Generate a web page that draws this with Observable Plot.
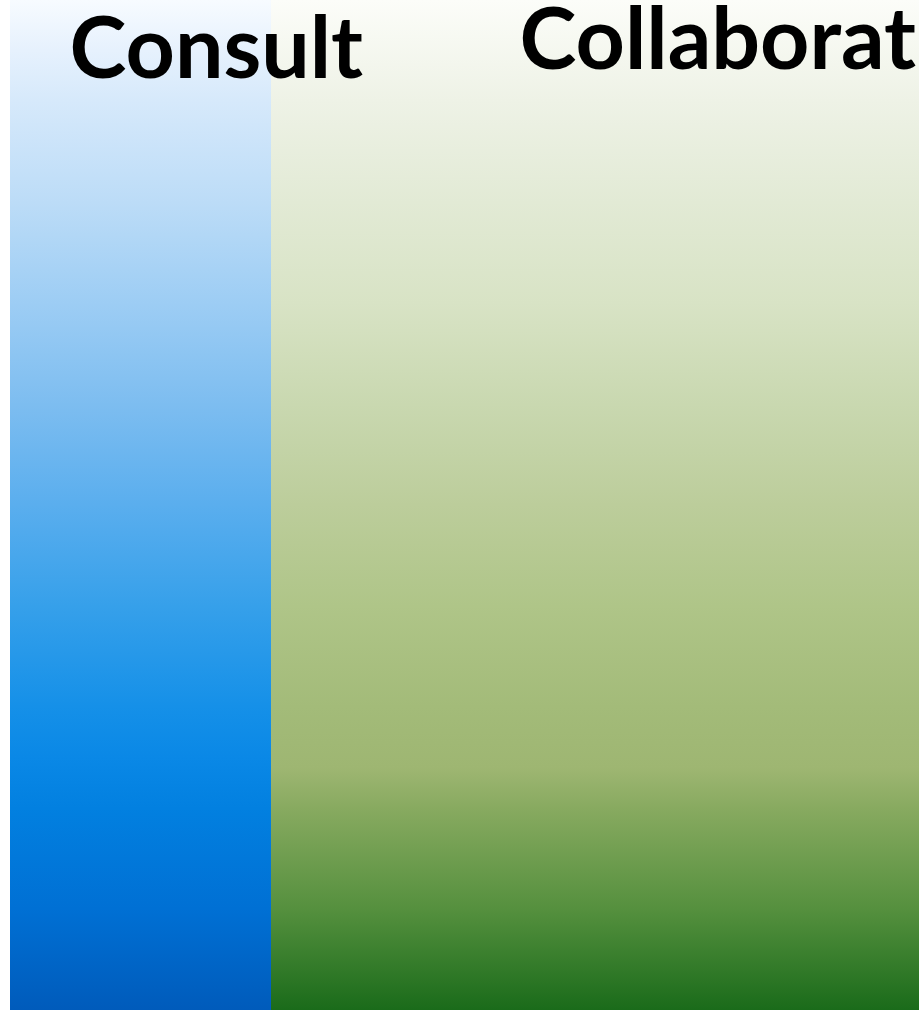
<!DOCTYPE html>
<html>
<head>
<meta charset="utf-8">
<script src="https://cdn.jsdelivr.net/npm/d3@7"></script>
<script src="https://cdn.jsdelivr.net/npm/@observablehq/plot@0.6"></script>
<style>
  html, body { margin: 0; padding: 0; background: #fff; }
  #chart { width: 919px; height: 1010px; overflow: hidden; }
</style>
</head>
<body>
<div id="chart"></div>
<script>
// ---- data ----
const categories = ["Consult", "Collaborat"];
const shares = [26.1, 64.8];

// ---- styles (gradient stops: offset, colour) ----
const blueStops = [
  [0, "#f7fbff"], [0.05, "#e6f1fd"], [0.1, "#d6e9fb"], [0.2, "#bcdcf7"],
  [0.3, "#9dcdf4"], [0.4, "#7dbdf0"], [0.5, "#5aaeee"], [0.6, "#36a0ea"],
  [0.7, "#1590e8"], [0.75, "#0a88e6"], [0.8, "#0280e0"], [0.9, "#0070d4"],
  [1, "#005bbb"]
];
const greenStops = [
  [0, "#fcfdf9"], [0.1, "#eef2e6"], [0.2, "#e2ead5"], [0.3, "#d8e3c5"],
  [0.4, "#c9d8b0"], [0.5, "#bccd9b"], [0.6, "#afc588"], [0.7, "#a3bb79"],
  [0.76, "#9eb672"], [0.8, "#88aa60"], [0.9, "#55903e"], [1, "#1a6b1a"]
];
const gradients = [["gradBlue", blueStops], ["gradGreen", greenStops]];
const labelStyle = [{dx: 59, dy: 77}, {dx: 248, dy: 68}];

const ends = d3.cumsum(shares);
const rows = categories.map((name, i) => ({
  name, value: shares[i], x1: ends[i] - shares[i], x2: ends[i], i
}));

function defs() {
  const d = d3.create("svg:defs");
  for (const [id, stops] of gradients) {
    const g = d.append("linearGradient").attr("id", id)
      .attr("x1", 0).attr("y1", 0).attr("x2", 0).attr("y2", 1);
    for (const [o, c] of stops) g.append("stop").attr("offset", o).attr("stop-color", c);
  }
  return d.node();
}

const fills = ["url(#gradBlue)", "url(#gradGreen)"];

const chart = Plot.plot({
  width: 919,
  height: 1010,
  marginLeft: 10,
  marginRight: 0,
  marginTop: 0,
  marginBottom: 0,
  x: {domain: [0, d3.sum(shares)], axis: null},
  style: {background: "#fff", overflow: "hidden"},
  marks: [
    defs,
    ...rows.map((r, i) => Plot.rectX([r], {x1: "x1", x2: "x2", fill: fills[i]})),
    ...rows.map((r, i) => Plot.text([r], {
      x: "x1", text: "name",
      frameAnchor: "top", lineAnchor: "bottom", textAnchor: "start",
      dx: labelStyle[i].dx, dy: labelStyle[i].dy,
      fill: "#000", fontSize: 86, fontWeight: 700,
      fontFamily: "Lato, 'Open Sans', sans-serif"
    }))
  ]
});
document.getElementById("chart").append(chart);
</script>
</body>
</html>
